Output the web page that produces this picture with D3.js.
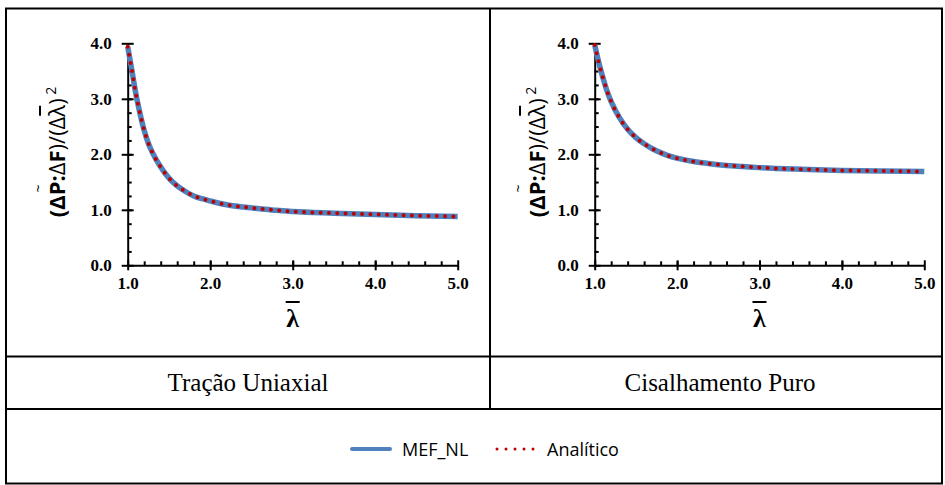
<!DOCTYPE html>
<html>
<head>
<meta charset="utf-8">
<script src="https://cdn.jsdelivr.net/npm/d3@7"></script>
<style>
  body { margin: 0; background: #fff; }
  svg { display: block; }
</style>
</head>
<body>
<svg id="chart" width="945" height="485"></svg>
<script>
// values (both series lie on top of each other)
const lambdaUni = [1.0, 1.05, 1.1, 1.15, 1.2, 1.25, 1.3, 1.4, 1.5, 1.6, 1.7, 1.8, 1.9, 2.0, 2.2, 2.4, 2.6, 2.8, 3.0, 3.5, 4.0, 4.5, 5.0];
const mefUni = [3.94, 3.52, 3.08, 2.73, 2.43, 2.2, 2.03, 1.77, 1.57, 1.43, 1.33, 1.25, 1.2, 1.16, 1.09, 1.05, 1.02, 0.99, 0.97, 0.94, 0.915, 0.895, 0.88];
const analiticoUni = [3.94, 3.52, 3.08, 2.73, 2.43, 2.2, 2.03, 1.77, 1.57, 1.43, 1.33, 1.25, 1.2, 1.16, 1.09, 1.05, 1.02, 0.99, 0.97, 0.94, 0.915, 0.895, 0.88];

const lambdaPuro = [1.0, 1.05, 1.1, 1.15, 1.2, 1.3, 1.4, 1.5, 1.6, 1.7, 1.8, 1.9, 2.0, 2.2, 2.4, 2.6, 2.8, 3.0, 3.5, 4.0, 4.5, 5.0];
const mefPuro = [3.97, 3.65, 3.38, 3.14, 2.95, 2.66, 2.45, 2.30, 2.19, 2.10, 2.03, 1.97, 1.93, 1.87, 1.83, 1.80, 1.78, 1.76, 1.73, 1.71, 1.70, 1.69];
const analiticoPuro = [3.97, 3.65, 3.38, 3.14, 2.95, 2.66, 2.45, 2.30, 2.19, 2.10, 2.03, 1.97, 1.93, 1.87, 1.83, 1.80, 1.78, 1.76, 1.73, 1.71, 1.70, 1.69];

const xTickLabels = ["1.0", "2.0", "3.0", "4.0", "5.0"];
const yTickLabels = ["0.0", "1.0", "2.0", "3.0", "4.0"];
const panelTitles = ["Tração Uniaxial", "Cisalhamento Puro"];
const seriesNames = ["MEF_NL", "Analítico"];

const blue = "#4f81bd";
const red = "#c00000";

let svg = d3.select("#chart");

// table frame
let frame = svg.append("g").attr("stroke", "#000").attr("stroke-width", 2).attr("fill", "none");
frame.append("rect").attr("x", 6).attr("y", 8.5).attr("width", 936).attr("height", 475);
frame.append("line").attr("x1", 490).attr("x2", 490).attr("y1", 8.5).attr("y2", 409);
frame.append("line").attr("x1", 6).attr("x2", 942).attr("y1", 356.5).attr("y2", 356.5);
frame.append("line").attr("x1", 6).attr("x2", 942).attr("y1", 409).attr("y2", 409);

var drawPanel = function(opt) {
  let x = d3.scaleLinear().domain([1, 5]).range([opt.left, opt.right]);
  let y = d3.scaleLinear().domain([0, 4]).range([opt.bottom, opt.top]);
  let g = svg.append("g");

  // minor ticks (inside)
  let xMinor = d3.axisBottom(x).tickValues(d3.range(1.2, 5, 0.2)).tickSize(-4).tickFormat("");
  let yMinor = d3.axisLeft(y).tickValues(d3.range(0.25, 4, 0.25)).tickSize(-4).tickFormat("");
  g.append("g").attr("transform", "translate(0," + opt.bottom + ")").call(xMinor)
    .call(a => a.select(".domain").remove());
  g.append("g").attr("transform", "translate(" + opt.left + ",0)").call(yMinor)
    .call(a => a.select(".domain").remove());

  // major axes
  let xAxis = d3.axisBottom(x).tickValues(xTickLabels.map(Number)).tickFormat((d, i) => xTickLabels[i]).tickSizeOuter(0);
  let yAxis = d3.axisLeft(y).tickValues(yTickLabels.map(Number)).tickFormat((d, i) => yTickLabels[i]).tickSizeOuter(0);
  let xg = g.append("g").attr("transform", "translate(0," + opt.bottom + ")").call(xAxis);
  let yg = g.append("g").attr("transform", "translate(" + opt.left + ",0)").call(yAxis);
  xg.selectAll(".tick line").attr("y1", -5).attr("y2", 5);
  yg.selectAll(".tick line").attr("x1", -6).attr("x2", 6);
  xg.selectAll(".tick text").attr("y", 12);
  yg.selectAll(".tick text").attr("x", -16);

  g.selectAll(".tick line").attr("stroke", "#000").attr("stroke-width", 2);
  g.selectAll(".domain").attr("stroke", "#000").attr("stroke-width", 2);
  g.selectAll(".tick text")
    .attr("fill", "#000")
    .style("font-family", "'Liberation Serif', 'Times New Roman', serif")
    .style("font-weight", "bold")
    .style("font-size", "17px");

  // curves
  let line = d3.line().x(d => x(d[0])).y(d => y(d[1])).curve(d3.curveMonotoneX);
  g.append("path")
    .datum(opt.lambda.map((l, i) => [l, opt.mef[i]]))
    .attr("d", line)
    .attr("fill", "none")
    .attr("stroke", blue)
    .attr("stroke-width", 5.5);
  g.append("path")
    .datum(opt.lambda.map((l, i) => [l, opt.ana[i]]))
    .attr("d", line)
    .attr("fill", "none")
    .attr("stroke", red)
    .attr("stroke-width", 4)
    .attr("stroke-linecap", "round")
    .attr("stroke-dasharray", "0 8.3");

  // x label: lambda with bar
  let cx = x(3);
  g.append("text")
    .attr("x", cx).attr("y", 327)
    .attr("text-anchor", "middle")
    .style("font-family", "'Liberation Serif', serif")
    .style("font-weight", "bold")
    .style("font-size", "26px")
    .text("λ");
  g.append("line")
    .attr("x1", cx - 7).attr("x2", cx + 7)
    .attr("y1", 302).attr("y2", 302)
    .attr("stroke", "#000").attr("stroke-width", 2);

  // y label, rotated
  let cy = 152;
  let lab = g.append("text")
    .attr("transform", "translate(" + opt.labelX + "," + cy + ") rotate(-90)")
    .attr("text-anchor", "middle")
    .style("font-family", "'Open Sans', sans-serif")
    .style("font-size", "22px")
    .attr("fill", "#000");
  lab.append("tspan").style("font-weight", "bold").text("(ΔP:");
  lab.append("tspan").text("Δ");
  lab.append("tspan").style("font-weight", "bold").text("F");
  lab.append("tspan").text(")/(Δλ)");
  lab.append("tspan").attr("dy", -9).style("font-size", "14px").text(" 2");

  // tilde over P and bar over lambda
  let node = lab.node();
  let p0 = node.getStartPositionOfChar(2), p1 = node.getEndPositionOfChar(2);
  let l0 = node.getStartPositionOfChar(10), l1 = node.getEndPositionOfChar(10);
  let deco = g.append("g").attr("transform", "translate(" + opt.labelX + "," + cy + ") rotate(-90)");
  deco.append("text")
    .attr("x", (p0.x + p1.x) / 2).attr("y", -22)
    .attr("text-anchor", "middle")
    .style("font-family", "'Open Sans', sans-serif")
    .style("font-size", "14px")
    .text("~");
  deco.append("line")
    .attr("x1", l0.x + 1).attr("x2", l1.x - 1)
    .attr("y1", -25).attr("y2", -25)
    .attr("stroke", "#000").attr("stroke-width", 2);
};

drawPanel({left: 127.7, right: 457.7, top: 43.3, bottom: 265.3, labelX: 65,
  lambda: lambdaUni, mef: mefUni, ana: analiticoUni});
drawPanel({left: 594.7, right: 924.3, top: 43.3, bottom: 265.3, labelX: 545,
  lambda: lambdaPuro, mef: mefPuro, ana: analiticoPuro});

// row titles
svg.selectAll("text.title")
  .data(panelTitles)
  .enter().append("text")
  .attr("class", "title")
  .attr("x", (d, i) => i == 0 ? 248 : 720)
  .attr("y", 391)
  .attr("text-anchor", "middle")
  .style("font-family", "'Liberation Serif', 'Times New Roman', serif")
  .style("font-size", "25px")
  .text(d => d);

// legend
let leg = svg.append("g");
leg.append("line").attr("x1", 352).attr("x2", 390).attr("y1", 449).attr("y2", 449)
  .attr("stroke", blue).attr("stroke-width", 4).attr("stroke-linecap", "round");
leg.append("line").attr("x1", 497).attr("x2", 534).attr("y1", 449).attr("y2", 449)
  .attr("stroke", red).attr("stroke-width", 3).attr("stroke-linecap", "round")
  .attr("stroke-dasharray", "0 9");
leg.selectAll("text")
  .data(seriesNames)
  .enter().append("text")
  .attr("x", (d, i) => i == 0 ? 402 : 547)
  .attr("y", 455.5)
  .style("font-family", "'Open Sans', sans-serif")
  .style("font-size", "18px")
  .attr("fill", "#000")
  .text(d => d);
</script>
</body>
</html>
